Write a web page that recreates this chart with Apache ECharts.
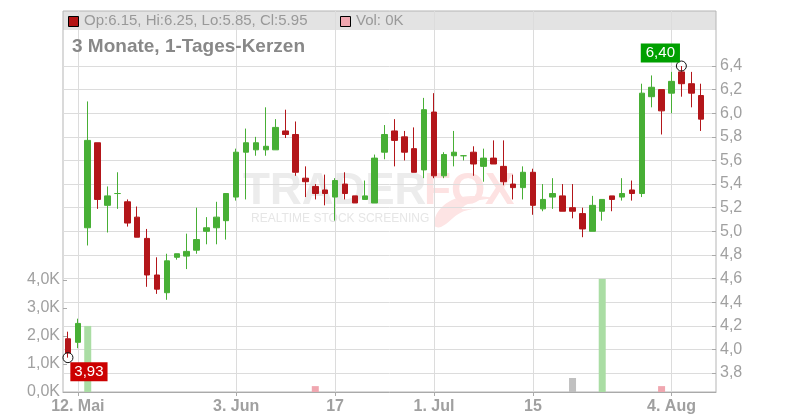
<!DOCTYPE html>
<html><head><meta charset="utf-8">
<script src="https://cdn.jsdelivr.net/npm/echarts@6/dist/echarts.min.js"></script>
<style>html,body{margin:0;padding:0;background:#fff}#c{width:800px;height:420px}</style>
</head><body><div id="c"></div>
<script>
// ---- data ----
const dates = [
 '2025-05-09','2025-05-12','2025-05-13','2025-05-14','2025-05-15','2025-05-16',
 '2025-05-19','2025-05-20','2025-05-21','2025-05-22','2025-05-23',
 '2025-05-26','2025-05-27','2025-05-28','2025-05-29','2025-05-30',
 '2025-06-02','2025-06-03','2025-06-04','2025-06-05','2025-06-06',
 '2025-06-09','2025-06-10','2025-06-11','2025-06-12','2025-06-13',
 '2025-06-16','2025-06-17','2025-06-18','2025-06-19','2025-06-20',
 '2025-06-23','2025-06-24','2025-06-25','2025-06-26','2025-06-27',
 '2025-06-30','2025-07-01','2025-07-02','2025-07-03','2025-07-04',
 '2025-07-07','2025-07-08','2025-07-09','2025-07-10','2025-07-11',
 '2025-07-14','2025-07-15','2025-07-16','2025-07-17','2025-07-18',
 '2025-07-21','2025-07-22','2025-07-23','2025-07-24','2025-07-25',
 '2025-07-28','2025-07-29','2025-07-30','2025-07-31','2025-08-01',
 '2025-08-04','2025-08-05','2025-08-06','2025-08-07','2025-08-08'
];
const opens = [4.09,4.06,5.03,5.75,5.22,5.32,5.25,5.12,4.94,4.63,4.48,4.78,4.79,4.84,5.00,5.03,5.09,5.29,5.67,5.69,5.69,5.69,5.85,5.82,5.45,5.38,5.35,5.29,5.40,5.30,5.27,5.24,5.67,5.85,5.80,5.70,5.52,6.01,5.47,5.64,5.64,5.67,5.55,5.62,5.55,5.40,5.37,5.50,5.19,5.29,5.30,5.20,5.15,5.00,5.17,5.30,5.29,5.35,5.32,6.14,6.20,6.17,6.35,6.25,6.15];
const highs = [4.15,4.26,6.10,5.75,5.38,5.50,5.27,5.21,5.02,4.78,4.81,4.81,4.98,5.20,5.12,5.25,5.32,5.70,5.87,5.80,6.05,5.95,6.03,5.93,5.55,5.40,5.48,5.45,5.50,5.30,5.43,5.65,5.90,5.95,5.85,5.88,6.13,6.17,5.67,5.85,5.64,5.72,5.70,5.77,5.77,5.48,5.55,5.53,5.40,5.45,5.40,5.40,5.20,5.30,5.27,5.30,5.45,5.43,6.25,6.32,6.20,6.35,6.40,6.35,6.25];
const lows = [3.93,4.01,4.88,5.19,4.99,5.19,5.04,4.95,4.53,4.47,4.42,4.76,4.68,4.81,4.89,4.89,4.93,5.26,5.27,5.64,5.64,5.69,5.79,5.47,5.29,5.27,5.22,5.09,5.27,5.24,5.27,5.24,5.61,5.55,5.60,5.50,5.45,5.45,5.45,5.55,5.60,5.47,5.42,5.57,5.39,5.27,5.27,5.14,5.17,5.19,5.17,5.11,4.95,5.00,5.09,5.17,5.26,5.26,5.29,6.05,5.82,6.00,6.14,6.05,5.85];
const closes = [3.97,4.22,5.77,5.27,5.30,5.32,5.07,4.95,4.63,4.51,4.75,4.81,4.83,4.93,5.03,5.12,5.32,5.67,5.75,5.75,5.72,5.88,5.82,5.50,5.42,5.32,5.32,5.43,5.32,5.24,5.30,5.62,5.82,5.77,5.67,5.50,6.03,5.47,5.65,5.67,5.64,5.57,5.62,5.57,5.42,5.37,5.50,5.22,5.27,5.32,5.17,5.17,5.02,5.22,5.27,5.27,5.32,5.32,6.17,6.22,6.02,6.27,6.25,6.17,5.95];
// volume in thousands, and trade direction
const volumes = [0,0,2.36,0,0,0,0,0,0,0,0,0,0,0,0,0,0,0,0,0,0,0,0,0,0,0.21,0,0,0,0,0,0,0,0,0,0,0,0,0,0,0,0,0,0,0,0,0,0,0,0,0,0.5,0,0,4.04,0,0,0,0,0,0.21,0,0,0,0];
const volumeDir = ['','','up','','','','','','','','','','','','','','','','','','','','','','','down','','','','','','','','','','','','','','','','','','','','','','','','','','flat','','','up','','','','','','down','','','',''];
const volumeTicks = [0,1,2,3,4];
const xTickLabels = {'2025-05-12':'12. Mai','2025-06-03':'3. Jun','2025-06-17':'17','2025-07-01':'1. Jul','2025-07-15':'15','2025-08-04':'4. Aug'};
const priceMin = 3.8, priceMax = 6.4, priceStep = 0.2;
const headerText = 'Op:6.15, Hi:6.25, Lo:5.85, Cl:5.95';
const volText = 'Vol: 0K';
const titleText = '3 Monate, 1-Tages-Kerzen';
const highMark = {date:'2025-08-05', value:6.40};
const lowMark = {date:'2025-05-09', value:3.93};

// ---- styles ----
const FONT = 'Liberation Sans, Arial, sans-serif';
const GREEN = '#47af35', RED = '#b3161a';
const LBL = '#a0a0a0';
const volColors = {up:'#aadda4', down:'#f0a7b0', flat:'#c0c0c0'};
const isTick = (i, v) => xTickLabels[v] !== undefined;
const fmt = v => v.toFixed(1).replace('.', ',');
function fmt2(v){ return v.toFixed(2).replace('.', ','); }

const chart = echarts.init(document.getElementById('c'), null, {renderer:'canvas'});
chart.setOption({
  animation:false,
  backgroundColor:'#fff',
  grid:[
    {left:63, right:84, top:11, bottom:28, show:true, borderColor:'#b5b5b5', borderWidth:1, backgroundColor:'transparent'},
    {left:63, right:84, top:66, bottom:47}
  ],
  xAxis:[
    {type:'category', gridIndex:0, data:dates, boundaryGap:true,
     axisLine:{show:true, lineStyle:{color:'#aaaaaa'}},
     axisTick:{show:true, alignWithLabel:true, interval:isTick, length:4, lineStyle:{color:'#aaaaaa'}},
     axisLabel:{interval:isTick, formatter:v => xTickLabels[v] || '', color:LBL, fontWeight:'bold', fontSize:16, fontFamily:FONT, margin:7},
     splitLine:{show:true, alignWithLabel:true, interval:isTick, lineStyle:{color:'#dcdcdc'}}},
    {type:'category', gridIndex:1, data:dates, boundaryGap:true, show:false}
  ],
  yAxis:[
    {type:'value', gridIndex:0, position:'left', min:0, max:381/28, interval:1,
     splitLine:{show:false}, axisLine:{show:false},
     axisTick:{show:true, inside:true, length:4, customValues:volumeTicks, lineStyle:{color:'#aaaaaa'}},
     axisLabel:{customValues:volumeTicks, formatter:v => v <= 4 ? fmt(v) + 'K' : '', color:LBL, fontSize:16, fontFamily:FONT, margin:3, padding:[2,0,0,0]}},
    {type:'value', gridIndex:1, position:'right', min:priceMin, max:priceMax, interval:priceStep,
     splitLine:{show:true, lineStyle:{color:'#dcdcdc'}}, axisLine:{show:false},
     axisTick:{show:true, inside:true, length:4, lineStyle:{color:'#aaaaaa'}},
     axisLabel:{formatter:fmt, color:LBL, fontSize:16, fontFamily:FONT, margin:4, padding:[2,0,0,0]}}
  ],
  series:[
    {type:'bar', xAxisIndex:0, yAxisIndex:0, barWidth:7, silent:true,
     data:volumes.map((v,i) => ({value:v, itemStyle:{color:volColors[volumeDir[i]] || '#ccc'}}))},
    {type:'candlestick', xAxisIndex:1, yAxisIndex:1, barWidth:6, clip:false,
     data:opens.map((o,i) => [o, closes[i], lows[i], highs[i]]),
     itemStyle:{color:GREEN, color0:RED, borderColor:GREEN, borderColor0:RED, borderColorDoji:GREEN, borderWidth:1},
     markPoint:{
       symbol:'circle', symbolSize:10, silent:true,
       itemStyle:{color:'rgba(255,255,255,0)', borderColor:'#111', borderWidth:1},
       data:[
         {coord:[highMark.date, highMark.value], value:highMark.value,
          label:{show:true, position:'inside', offset:[-21,-13], formatter:fmt2(highMark.value), backgroundColor:'#00a000', color:'#fff', fontSize:15, fontFamily:FONT, padding:[2,5,2,5]}},
         {coord:[lowMark.date, lowMark.value], value:lowMark.value,
          label:{show:true, position:'inside', offset:[21,14], formatter:fmt2(lowMark.value), backgroundColor:'#cc0000', color:'#fff', fontSize:15, fontFamily:FONT, padding:[2,4,2,4]}}
       ]
     }}
  ],
  graphic:[
    {type:'rect', z:-1, silent:true, shape:{x:63, y:11, width:653, height:19}, style:{fill:'#e3e3e3'}},
    {type:'polygon', z:-1, silent:true, shape:{smooth:0.4, points:[[434,225],[441,208],[462,197],[492,198],[472,202],[462,209],[486,207],[462,212],[441,227]]}, style:{fill:'#fde4e4'}},
    {type:'text', z:-1, silent:true, x:243, y:192, style:{text:'TRADER', font:'bold 44px ' + FONT, fill:'#ececec', textVerticalAlign:'middle'}},
    {type:'text', z:-1, silent:true, x:424, y:192, style:{text:'FOX', font:'bold 44px ' + FONT, fill:'#fde2e2', textVerticalAlign:'middle'}},
    {type:'text', z:-1, silent:true, x:251, y:219, style:{text:'REALTIME STOCK SCREENING', font:'12px ' + FONT, fill:'#e6e6e6', textVerticalAlign:'middle'}},
    {type:'rect', z:5, silent:true, shape:{x:68.5, y:16.5, width:10, height:10}, style:{fill:'#b41414', stroke:'#000', lineWidth:1}},
    {type:'text', z:5, silent:true, x:84, y:21, style:{text:headerText, font:'15px ' + FONT, fill:'#999', textVerticalAlign:'middle'}},
    {type:'rect', z:5, silent:true, shape:{x:340.5, y:16.5, width:10, height:10}, style:{fill:'#f0a7b0', stroke:'#000', lineWidth:1}},
    {type:'text', z:5, silent:true, x:356, y:21, style:{text:volText, font:'15px ' + FONT, fill:'#999', textVerticalAlign:'middle'}},
    {type:'text', z:5, silent:true, x:72, y:47, style:{text:titleText, font:'bold 19px ' + FONT, fill:'#888', textVerticalAlign:'middle'}}
  ]
});
</script></body></html>
